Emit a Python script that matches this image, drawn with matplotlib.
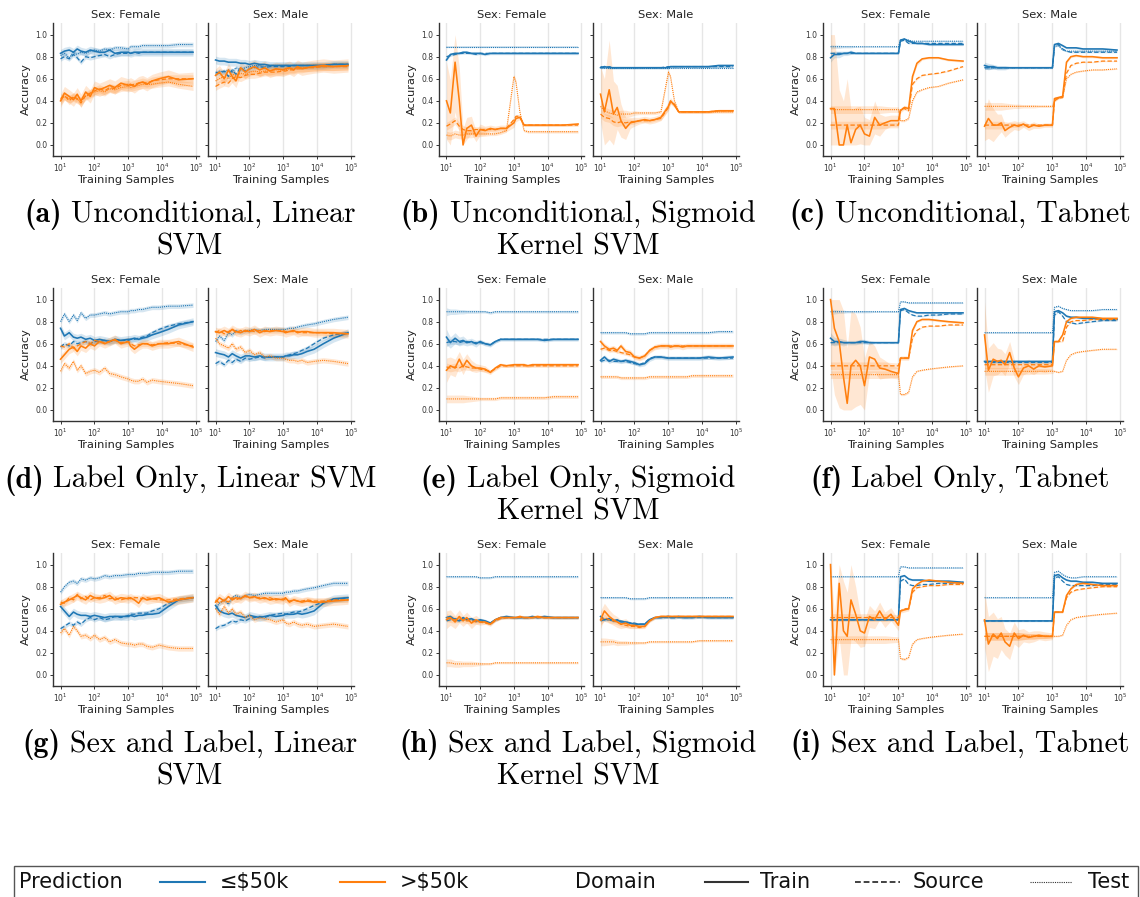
import numpy as np
import matplotlib
matplotlib.use('Agg')
import matplotlib.pyplot as plt
from matplotlib.lines import Line2D
from matplotlib.patches import Rectangle
from matplotlib.ticker import FixedLocator, NullLocator, LogFormatterSciNotation

# ---------------- data ----------------
samples = [10, 13, 18, 24, 31, 40, 55, 75, 100, 140, 200, 280, 400, 600, 1000,
           1150, 1500, 2000, 2600, 3500, 5000, 8000, 15000, 30000, 80000]

# (a) Unconditional, Linear SVM
a_F_lo_tr = [0.83,0.85,0.86,0.84,0.87,0.85,0.84,0.86,0.85,0.84,0.84,0.86,0.83,0.84,0.84,0.83,0.84,0.84,0.84,0.84,0.84,0.84,0.84,0.84,0.84]
a_F_lo_src = [0.78,0.80,0.78,0.82,0.79,0.75,0.80,0.79,0.80,0.81,0.82,0.80,0.82,0.83,0.83,0.83,0.84,0.83,0.84,0.84,0.84,0.84,0.84,0.84,0.84]
a_F_lo_tst = [0.81,0.83,0.79,0.84,0.82,0.84,0.83,0.85,0.86,0.85,0.87,0.86,0.88,0.88,0.87,0.89,0.89,0.89,0.90,0.90,0.90,0.90,0.90,0.91,0.91]
a_F_hi_tr = [0.40,0.47,0.44,0.41,0.46,0.40,0.48,0.44,0.52,0.50,0.52,0.54,0.52,0.56,0.54,0.55,0.53,0.56,0.57,0.55,0.58,0.60,0.62,0.59,0.60]
a_F_hi_src = [0.42,0.45,0.40,0.44,0.42,0.38,0.45,0.47,0.49,0.51,0.49,0.52,0.51,0.54,0.55,0.54,0.55,0.56,0.57,0.56,0.58,0.59,0.60,0.60,0.60]
a_F_hi_tst = [0.40,0.44,0.42,0.43,0.41,0.40,0.44,0.46,0.48,0.49,0.48,0.51,0.50,0.52,0.53,0.52,0.53,0.54,0.55,0.55,0.55,0.56,0.57,0.55,0.53]
a_M_lo_tr = [0.77,0.76,0.76,0.75,0.75,0.75,0.74,0.74,0.73,0.74,0.73,0.73,0.72,0.72,0.72,0.72,0.72,0.72,0.72,0.72,0.72,0.72,0.72,0.73,0.73]
a_M_lo_src = [0.66,0.65,0.67,0.62,0.68,0.64,0.70,0.67,0.69,0.70,0.71,0.70,0.71,0.71,0.71,0.72,0.71,0.72,0.72,0.72,0.72,0.72,0.72,0.73,0.73]
a_M_lo_tst = [0.64,0.67,0.66,0.68,0.66,0.70,0.68,0.70,0.71,0.72,0.72,0.71,0.72,0.72,0.72,0.72,0.72,0.72,0.72,0.72,0.72,0.72,0.72,0.73,0.73]
a_M_hi_tr = [0.63,0.66,0.60,0.68,0.62,0.58,0.70,0.66,0.69,0.71,0.68,0.70,0.67,0.69,0.68,0.69,0.70,0.68,0.71,0.69,0.70,0.71,0.72,0.71,0.72]
a_M_hi_src = [0.53,0.55,0.57,0.56,0.60,0.62,0.61,0.63,0.64,0.64,0.65,0.66,0.66,0.66,0.67,0.67,0.68,0.68,0.69,0.69,0.70,0.70,0.71,0.71,0.71]
a_M_hi_tst = [0.58,0.60,0.62,0.60,0.64,0.63,0.65,0.64,0.66,0.67,0.66,0.67,0.67,0.68,0.68,0.68,0.69,0.69,0.70,0.70,0.70,0.71,0.71,0.71,0.72]
a_band = [0.035, 0.06]

# (b) Unconditional, Sigmoid Kernel SVM
b_F_lo_tr = [0.77,0.82,0.83,0.83,0.84,0.84,0.83,0.83,0.83,0.82,0.83,0.83,0.83,0.83,0.83,0.83,0.83,0.83,0.83,0.83,0.83,0.83,0.83,0.83,0.83]
b_F_lo_src = [0.80,0.81,0.82,0.83,0.83,0.83,0.83,0.82,0.83,0.83,0.83,0.83,0.83,0.83,0.83,0.83,0.83,0.83,0.83,0.83,0.83,0.83,0.83,0.83,0.83]
b_F_lo_tst = [0.89,0.89,0.89,0.89,0.89,0.89,0.89,0.89,0.89,0.89,0.89,0.89,0.89,0.89,0.89,0.89,0.89,0.89,0.89,0.89,0.89,0.89,0.89,0.89,0.89]
b_F_hi_tr = [0.40,0.29,0.75,0.40,0.00,0.15,0.18,0.08,0.14,0.13,0.15,0.14,0.15,0.15,0.20,0.24,0.25,0.18,0.18,0.18,0.18,0.18,0.18,0.18,0.19]
b_F_hi_src = [0.17,0.19,0.22,0.17,0.14,0.13,0.13,0.14,0.14,0.14,0.14,0.14,0.15,0.15,0.23,0.26,0.26,0.18,0.18,0.18,0.18,0.18,0.18,0.18,0.18]
b_F_hi_tst = [0.09,0.08,0.10,0.09,0.09,0.10,0.10,0.10,0.10,0.10,0.10,0.10,0.11,0.13,0.62,0.57,0.30,0.13,0.12,0.12,0.12,0.12,0.12,0.12,0.12]
b_F_hi_band = [0.35,0.30,0.45,0.30,0.15,0.10,0.08,0.05,0.05,0.04,0.03,0.03,0.03,0.03,0.04,0.03,0.02,0.01,0.01,0.01,0.01,0.01,0.01,0.01,0.01]
b_M_lo_tr = [0.70,0.71,0.70,0.70,0.70,0.70,0.70,0.70,0.70,0.70,0.70,0.70,0.70,0.70,0.70,0.71,0.71,0.71,0.71,0.71,0.71,0.71,0.71,0.72,0.72]
b_M_lo_src = [0.71,0.70,0.71,0.70,0.70,0.70,0.70,0.70,0.70,0.70,0.70,0.70,0.70,0.70,0.71,0.71,0.71,0.71,0.71,0.71,0.71,0.71,0.71,0.71,0.71]
b_M_lo_tst = [0.70,0.70,0.70,0.70,0.70,0.70,0.70,0.70,0.70,0.70,0.70,0.70,0.70,0.70,0.70,0.70,0.70,0.70,0.70,0.70,0.70,0.70,0.70,0.70,0.70]
b_M_hi_tr = [0.46,0.30,0.50,0.28,0.34,0.22,0.15,0.20,0.21,0.22,0.23,0.22,0.23,0.25,0.35,0.40,0.36,0.30,0.30,0.30,0.30,0.30,0.30,0.31,0.31]
b_M_hi_src = [0.28,0.25,0.24,0.21,0.20,0.21,0.20,0.21,0.21,0.22,0.22,0.22,0.23,0.24,0.34,0.39,0.37,0.30,0.30,0.30,0.30,0.30,0.30,0.31,0.31]
b_M_hi_tst = [0.35,0.31,0.29,0.28,0.27,0.28,0.28,0.28,0.29,0.29,0.29,0.29,0.29,0.30,0.66,0.62,0.40,0.30,0.30,0.30,0.30,0.30,0.30,0.30,0.30]
b_M_hi_band = [0.25,0.30,0.45,0.30,0.20,0.15,0.10,0.05,0.04,0.03,0.03,0.03,0.03,0.03,0.04,0.03,0.02,0.01,0.01,0.01,0.01,0.01,0.01,0.01,0.01]
b_band = [0.012, 0.02]

# (c) Unconditional, Tabnet
c_F_lo_tr = [0.79,0.82,0.82,0.83,0.83,0.84,0.83,0.83,0.83,0.83,0.83,0.83,0.83,0.83,0.83,0.95,0.96,0.94,0.93,0.92,0.92,0.91,0.91,0.91,0.91]
c_F_lo_src = [0.83,0.83,0.83,0.83,0.83,0.83,0.83,0.83,0.83,0.83,0.83,0.83,0.83,0.83,0.83,0.94,0.95,0.92,0.92,0.92,0.92,0.92,0.92,0.92,0.92]
c_F_lo_tst = [0.89,0.89,0.89,0.89,0.89,0.89,0.89,0.89,0.89,0.89,0.89,0.89,0.89,0.89,0.89,0.95,0.96,0.95,0.94,0.94,0.94,0.94,0.94,0.94,0.94]
c_F_hi_tr = [0.33,0.33,0.00,0.00,0.18,0.02,0.14,0.18,0.10,0.08,0.25,0.18,0.20,0.22,0.22,0.31,0.34,0.33,0.62,0.74,0.78,0.79,0.79,0.77,0.76]
c_F_hi_src = [0.18,0.18,0.18,0.18,0.18,0.18,0.18,0.18,0.18,0.18,0.18,0.18,0.18,0.18,0.18,0.33,0.33,0.31,0.55,0.60,0.63,0.64,0.65,0.67,0.71]
c_F_hi_tst = [0.32,0.32,0.32,0.32,0.32,0.32,0.32,0.32,0.32,0.32,0.32,0.32,0.32,0.32,0.32,0.22,0.22,0.24,0.40,0.48,0.50,0.52,0.53,0.56,0.59]
c_F_lo_band = [0.04,0.03,0.03,0.02,0.02,0.02,0.01,0.01,0.01,0.01,0.01,0.01,0.01,0.01,0.01,0.01,0.01,0.01,0.01,0.01,0.01,0.01,0.01,0.01,0.01]
c_F_hi_band = [0.67,0.67,0.50,0.40,0.42,0.30,0.20,0.17,0.15,0.15,0.15,0.10,0.06,0.05,0.05,0.02,0.02,0.02,0.02,0.02,0.01,0.01,0.01,0.01,0.01]
c_M_lo_tr = [0.72,0.71,0.71,0.70,0.70,0.70,0.70,0.70,0.70,0.70,0.70,0.70,0.70,0.70,0.70,0.91,0.92,0.90,0.88,0.88,0.88,0.87,0.87,0.87,0.86]
c_M_lo_src = [0.70,0.70,0.70,0.70,0.70,0.70,0.70,0.70,0.70,0.70,0.70,0.70,0.70,0.70,0.70,0.90,0.91,0.87,0.85,0.84,0.84,0.84,0.84,0.84,0.84]
c_M_lo_tst = [0.70,0.70,0.70,0.70,0.70,0.70,0.70,0.70,0.70,0.70,0.70,0.70,0.70,0.70,0.70,0.89,0.90,0.86,0.85,0.85,0.85,0.85,0.85,0.85,0.85]
c_M_hi_tr = [0.17,0.24,0.18,0.18,0.20,0.13,0.16,0.18,0.17,0.19,0.16,0.18,0.17,0.18,0.18,0.42,0.43,0.44,0.75,0.80,0.81,0.80,0.80,0.79,0.79]
c_M_hi_src = [0.18,0.18,0.18,0.18,0.18,0.18,0.18,0.18,0.18,0.18,0.18,0.18,0.18,0.18,0.18,0.40,0.43,0.43,0.65,0.72,0.74,0.75,0.75,0.76,0.76]
c_M_hi_tst = [0.35,0.35,0.35,0.35,0.35,0.35,0.35,0.35,0.35,0.35,0.35,0.35,0.35,0.35,0.35,0.40,0.42,0.43,0.60,0.64,0.66,0.67,0.68,0.68,0.69]
c_M_lo_band = [0.03,0.03,0.02,0.02,0.02,0.02,0.01,0.01,0.01,0.01,0.01,0.01,0.01,0.01,0.01,0.01,0.01,0.01,0.01,0.01,0.01,0.01,0.01,0.01,0.01]
c_M_hi_band = [0.13,0.18,0.15,0.10,0.08,0.06,0.05,0.04,0.04,0.03,0.03,0.03,0.02,0.02,0.02,0.02,0.01,0.01,0.01,0.01,0.01,0.01,0.01,0.01,0.01]
c_band = [0.008, 0.008]

# (d) Label Only, Linear SVM
d_F_lo_tr = [0.74,0.67,0.70,0.66,0.65,0.66,0.64,0.65,0.63,0.64,0.63,0.62,0.64,0.63,0.64,0.64,0.65,0.64,0.65,0.66,0.68,0.70,0.73,0.77,0.80]
d_F_lo_src = [0.57,0.60,0.58,0.62,0.60,0.61,0.62,0.60,0.62,0.62,0.63,0.62,0.63,0.63,0.63,0.64,0.64,0.65,0.66,0.67,0.70,0.73,0.76,0.78,0.80]
d_F_lo_tst = [0.80,0.87,0.80,0.86,0.81,0.88,0.83,0.86,0.86,0.87,0.88,0.87,0.88,0.89,0.89,0.90,0.90,0.91,0.91,0.92,0.93,0.93,0.94,0.94,0.95]
d_F_hi_tr = [0.46,0.50,0.55,0.57,0.53,0.58,0.56,0.60,0.58,0.62,0.60,0.62,0.64,0.60,0.62,0.58,0.55,0.58,0.60,0.60,0.58,0.60,0.60,0.62,0.57]
d_F_hi_src = [0.58,0.57,0.60,0.56,0.58,0.60,0.62,0.60,0.63,0.62,0.61,0.62,0.63,0.61,0.62,0.60,0.58,0.59,0.60,0.60,0.59,0.60,0.61,0.60,0.58]
d_F_hi_tst = [0.35,0.42,0.38,0.44,0.36,0.40,0.33,0.35,0.36,0.34,0.38,0.33,0.32,0.30,0.28,0.27,0.26,0.26,0.28,0.25,0.27,0.26,0.25,0.24,0.22]
d_M_lo_tr = [0.52,0.51,0.50,0.48,0.51,0.49,0.47,0.49,0.49,0.48,0.49,0.48,0.48,0.48,0.48,0.49,0.49,0.50,0.50,0.51,0.53,0.55,0.60,0.65,0.70]
d_M_lo_src = [0.42,0.44,0.41,0.45,0.43,0.46,0.44,0.47,0.46,0.47,0.48,0.47,0.48,0.48,0.48,0.49,0.50,0.51,0.52,0.54,0.56,0.60,0.65,0.68,0.70]
d_M_lo_tst = [0.62,0.67,0.63,0.70,0.68,0.72,0.70,0.72,0.72,0.73,0.72,0.73,0.73,0.73,0.73,0.73,0.74,0.74,0.75,0.76,0.77,0.78,0.80,0.82,0.84]
d_M_hi_tr = [0.71,0.70,0.72,0.70,0.73,0.71,0.70,0.72,0.71,0.73,0.70,0.72,0.71,0.72,0.71,0.70,0.71,0.72,0.70,0.71,0.71,0.70,0.70,0.70,0.69]
d_M_hi_src = [0.70,0.72,0.69,0.71,0.73,0.70,0.72,0.71,0.72,0.71,0.72,0.71,0.72,0.72,0.72,0.71,0.71,0.71,0.71,0.70,0.70,0.70,0.70,0.69,0.69]
d_M_hi_tst = [0.65,0.60,0.58,0.56,0.60,0.55,0.57,0.52,0.54,0.50,0.52,0.48,0.49,0.47,0.47,0.46,0.45,0.45,0.44,0.45,0.43,0.44,0.45,0.44,0.42]
d_band = [0.035, 0.04]

# (e) Label Only, Sigmoid Kernel SVM
e_F_lo_tr = [0.66,0.61,0.65,0.62,0.63,0.61,0.62,0.60,0.62,0.60,0.59,0.62,0.64,0.64,0.64,0.64,0.64,0.64,0.64,0.64,0.64,0.63,0.64,0.64,0.64]
e_F_lo_src = [0.61,0.62,0.62,0.61,0.62,0.62,0.61,0.61,0.61,0.60,0.59,0.62,0.64,0.64,0.64,0.64,0.64,0.64,0.64,0.64,0.64,0.64,0.64,0.64,0.64]
e_F_lo_tst = [0.89,0.89,0.89,0.89,0.89,0.89,0.89,0.89,0.89,0.89,0.88,0.89,0.89,0.89,0.89,0.89,0.89,0.89,0.89,0.89,0.89,0.89,0.89,0.89,0.89]
e_F_hi_tr = [0.36,0.40,0.38,0.46,0.39,0.45,0.40,0.38,0.38,0.37,0.34,0.38,0.41,0.40,0.41,0.41,0.41,0.41,0.40,0.41,0.41,0.41,0.41,0.41,0.41]
e_F_hi_src = [0.39,0.38,0.39,0.38,0.40,0.39,0.38,0.38,0.37,0.36,0.35,0.37,0.40,0.40,0.40,0.40,0.40,0.40,0.40,0.40,0.40,0.40,0.40,0.40,0.40]
e_F_hi_tst = [0.10,0.10,0.10,0.10,0.10,0.10,0.10,0.10,0.10,0.10,0.10,0.10,0.11,0.11,0.11,0.11,0.11,0.11,0.11,0.11,0.11,0.11,0.12,0.12,0.12]
e_F_lo_band = [0.07,0.05,0.05,0.04,0.04,0.03,0.03,0.03,0.02,0.02,0.02,0.015,0.015,0.015,0.015,0.015,0.015,0.015,0.015,0.015,0.015,0.015,0.015,0.015,0.015]
e_F_hi_band = [0.11,0.08,0.08,0.07,0.07,0.06,0.05,0.04,0.03,0.03,0.02,0.015,0.015,0.015,0.015,0.015,0.015,0.015,0.015,0.015,0.015,0.015,0.015,0.015,0.015]
e_M_lo_tr = [0.45,0.48,0.44,0.46,0.45,0.44,0.45,0.44,0.43,0.41,0.42,0.46,0.48,0.48,0.47,0.47,0.47,0.47,0.47,0.47,0.47,0.47,0.48,0.47,0.48]
e_M_lo_src = [0.44,0.45,0.45,0.44,0.44,0.44,0.44,0.43,0.42,0.41,0.43,0.47,0.48,0.48,0.47,0.47,0.47,0.47,0.47,0.47,0.47,0.47,0.47,0.47,0.47]
e_M_lo_tst = [0.70,0.70,0.70,0.70,0.70,0.70,0.70,0.69,0.69,0.69,0.69,0.70,0.70,0.70,0.70,0.70,0.70,0.70,0.70,0.70,0.70,0.70,0.70,0.71,0.71]
e_M_hi_tr = [0.62,0.58,0.55,0.56,0.54,0.58,0.53,0.52,0.48,0.47,0.49,0.54,0.57,0.58,0.58,0.57,0.58,0.58,0.57,0.58,0.58,0.58,0.58,0.58,0.58]
e_M_hi_src = [0.55,0.56,0.54,0.54,0.53,0.52,0.51,0.50,0.48,0.47,0.49,0.54,0.57,0.58,0.58,0.58,0.58,0.58,0.58,0.58,0.58,0.58,0.58,0.58,0.58]
e_M_hi_tst = [0.30,0.30,0.30,0.30,0.30,0.29,0.29,0.29,0.29,0.29,0.29,0.30,0.30,0.30,0.30,0.30,0.30,0.30,0.30,0.30,0.31,0.31,0.31,0.31,0.31]
e_band = [0.02, 0.025]

# (f) Label Only, Tabnet
f_F_lo_tr = [0.65,0.62,0.62,0.61,0.61,0.61,0.61,0.62,0.62,0.61,0.61,0.61,0.61,0.61,0.61,0.91,0.92,0.90,0.89,0.88,0.88,0.88,0.88,0.88,0.88]
f_F_lo_src = [0.61,0.61,0.61,0.61,0.61,0.61,0.61,0.61,0.61,0.61,0.61,0.61,0.61,0.61,0.61,0.90,0.91,0.88,0.86,0.85,0.85,0.86,0.86,0.87,0.87]
f_F_lo_tst = [0.89,0.89,0.89,0.89,0.89,0.89,0.89,0.89,0.89,0.89,0.89,0.89,0.89,0.89,0.89,0.98,0.98,0.97,0.97,0.97,0.97,0.97,0.97,0.97,0.97]
f_F_hi_tr = [1.00,0.74,0.62,0.30,0.06,0.40,0.45,0.40,0.22,0.48,0.46,0.38,0.37,0.35,0.33,0.47,0.47,0.47,0.72,0.80,0.82,0.82,0.81,0.80,0.79]
f_F_hi_src = [0.40,0.40,0.40,0.40,0.40,0.40,0.40,0.40,0.40,0.40,0.40,0.40,0.40,0.40,0.40,0.47,0.47,0.47,0.65,0.72,0.75,0.76,0.76,0.77,0.77]
f_F_hi_tst = [0.32,0.32,0.32,0.32,0.32,0.32,0.32,0.32,0.32,0.32,0.32,0.32,0.32,0.32,0.32,0.14,0.14,0.16,0.30,0.35,0.36,0.37,0.38,0.39,0.40]
f_F_lo_band = [0.05,0.04,0.03,0.03,0.02,0.02,0.02,0.02,0.02,0.02,0.01,0.01,0.01,0.01,0.01,0.01,0.01,0.01,0.01,0.01,0.01,0.01,0.01,0.01,0.01]
f_F_hi_band = [0.60,0.60,0.60,0.60,0.50,0.50,0.42,0.35,0.25,0.15,0.12,0.10,0.08,0.06,0.05,0.02,0.02,0.02,0.02,0.01,0.01,0.01,0.01,0.01,0.01]
f_M_lo_tr = [0.44,0.44,0.44,0.44,0.44,0.44,0.44,0.44,0.44,0.44,0.44,0.44,0.44,0.44,0.44,0.89,0.90,0.88,0.85,0.84,0.84,0.83,0.83,0.82,0.82]
f_M_lo_src = [0.43,0.43,0.43,0.43,0.43,0.43,0.43,0.43,0.43,0.43,0.43,0.43,0.43,0.43,0.43,0.86,0.89,0.85,0.80,0.79,0.78,0.79,0.80,0.81,0.81]
f_M_lo_tst = [0.70,0.70,0.70,0.70,0.70,0.70,0.70,0.70,0.70,0.70,0.70,0.70,0.70,0.70,0.70,0.93,0.94,0.92,0.91,0.90,0.90,0.90,0.90,0.91,0.91]
f_M_hi_tr = [0.68,0.36,0.46,0.44,0.45,0.41,0.52,0.38,0.30,0.38,0.40,0.37,0.40,0.39,0.40,0.62,0.62,0.68,0.80,0.83,0.84,0.84,0.84,0.83,0.83]
f_M_hi_src = [0.41,0.41,0.41,0.41,0.41,0.41,0.41,0.41,0.41,0.41,0.41,0.41,0.41,0.41,0.41,0.62,0.62,0.62,0.75,0.80,0.81,0.81,0.82,0.82,0.82]
f_M_hi_tst = [0.35,0.35,0.35,0.35,0.35,0.35,0.35,0.35,0.35,0.35,0.35,0.35,0.35,0.35,0.35,0.35,0.34,0.35,0.45,0.50,0.52,0.53,0.54,0.55,0.55]
f_M_hi_band = [0.30,0.20,0.15,0.12,0.10,0.10,0.10,0.08,0.07,0.06,0.06,0.05,0.05,0.05,0.04,0.01,0.01,0.01,0.01,0.01,0.01,0.01,0.01,0.01,0.01]
f_band = [0.01, 0.008]

# (g) Sex and Label, Linear SVM
g_F_lo_tr = [0.62,0.58,0.53,0.57,0.55,0.54,0.54,0.53,0.54,0.53,0.52,0.53,0.53,0.53,0.53,0.54,0.53,0.54,0.54,0.55,0.55,0.56,0.62,0.68,0.70]
g_F_lo_src = [0.42,0.44,0.47,0.45,0.48,0.46,0.50,0.52,0.50,0.52,0.50,0.51,0.53,0.52,0.54,0.55,0.55,0.56,0.56,0.56,0.58,0.60,0.65,0.68,0.70]
g_F_lo_tst = [0.75,0.80,0.84,0.85,0.83,0.87,0.86,0.88,0.87,0.88,0.90,0.89,0.90,0.90,0.91,0.91,0.91,0.92,0.92,0.92,0.93,0.93,0.93,0.94,0.94]
g_F_hi_tr = [0.64,0.66,0.68,0.70,0.72,0.70,0.68,0.72,0.70,0.69,0.70,0.72,0.68,0.70,0.69,0.70,0.68,0.65,0.70,0.68,0.69,0.70,0.66,0.68,0.70]
g_F_hi_src = [0.66,0.65,0.70,0.68,0.73,0.69,0.71,0.68,0.70,0.70,0.72,0.69,0.70,0.68,0.70,0.69,0.70,0.70,0.69,0.70,0.69,0.68,0.68,0.69,0.70]
g_F_hi_tst = [0.38,0.42,0.36,0.44,0.40,0.35,0.36,0.33,0.36,0.32,0.34,0.30,0.32,0.29,0.28,0.28,0.27,0.28,0.28,0.26,0.25,0.27,0.25,0.24,0.24]
g_M_lo_tr = [0.63,0.58,0.56,0.55,0.56,0.54,0.53,0.52,0.54,0.53,0.52,0.53,0.54,0.53,0.54,0.55,0.55,0.55,0.56,0.55,0.56,0.58,0.65,0.69,0.70]
g_M_lo_src = [0.42,0.44,0.45,0.47,0.49,0.48,0.50,0.49,0.51,0.52,0.53,0.52,0.54,0.55,0.56,0.55,0.56,0.57,0.57,0.58,0.60,0.63,0.66,0.68,0.70]
g_M_lo_tst = [0.60,0.65,0.68,0.64,0.70,0.72,0.70,0.72,0.73,0.72,0.73,0.74,0.74,0.74,0.74,0.75,0.75,0.76,0.76,0.77,0.78,0.79,0.81,0.83,0.83]
g_M_hi_tr = [0.66,0.70,0.67,0.71,0.68,0.70,0.69,0.72,0.70,0.71,0.69,0.70,0.68,0.69,0.68,0.70,0.66,0.68,0.67,0.66,0.67,0.66,0.66,0.67,0.68]
g_M_hi_src = [0.68,0.65,0.68,0.66,0.70,0.68,0.70,0.71,0.70,0.70,0.70,0.69,0.70,0.68,0.69,0.68,0.67,0.68,0.67,0.67,0.68,0.67,0.67,0.68,0.68]
g_M_hi_tst = [0.60,0.55,0.62,0.56,0.60,0.55,0.57,0.52,0.54,0.50,0.52,0.51,0.50,0.48,0.50,0.47,0.46,0.48,0.46,0.45,0.46,0.44,0.45,0.46,0.44]
g_band = [0.035, 0.04]

# (h) Sex and Label, Sigmoid Kernel SVM
h_F_lo_tr = [0.52,0.53,0.50,0.49,0.52,0.50,0.51,0.49,0.50,0.49,0.47,0.50,0.52,0.53,0.52,0.52,0.52,0.52,0.52,0.53,0.52,0.53,0.52,0.52,0.52]
h_F_lo_src = [0.49,0.50,0.51,0.50,0.50,0.51,0.50,0.49,0.49,0.48,0.47,0.50,0.52,0.52,0.52,0.52,0.52,0.52,0.52,0.52,0.52,0.52,0.52,0.52,0.52]
h_F_lo_tst = [0.89,0.89,0.89,0.89,0.89,0.89,0.89,0.89,0.88,0.88,0.88,0.89,0.89,0.89,0.89,0.89,0.89,0.89,0.89,0.89,0.89,0.89,0.89,0.89,0.89]
h_F_hi_tr = [0.50,0.52,0.48,0.53,0.49,0.52,0.47,0.50,0.48,0.48,0.46,0.50,0.52,0.52,0.52,0.52,0.53,0.52,0.52,0.52,0.53,0.52,0.52,0.52,0.52]
h_F_hi_src = [0.52,0.51,0.50,0.51,0.50,0.49,0.49,0.48,0.48,0.47,0.46,0.49,0.51,0.52,0.52,0.52,0.52,0.52,0.52,0.52,0.52,0.52,0.52,0.52,0.52]
h_F_hi_tst = [0.11,0.11,0.10,0.10,0.10,0.10,0.10,0.10,0.10,0.10,0.10,0.11,0.11,0.11,0.11,0.11,0.11,0.11,0.11,0.11,0.11,0.11,0.11,0.11,0.11]
h_F_hi_band = [0.08,0.07,0.06,0.06,0.05,0.05,0.05,0.04,0.03,0.02,0.02,0.015,0.015,0.015,0.015,0.015,0.015,0.015,0.015,0.015,0.015,0.015,0.015,0.015,0.015]
h_M_lo_tr = [0.53,0.50,0.51,0.49,0.50,0.48,0.48,0.47,0.46,0.46,0.46,0.50,0.52,0.52,0.53,0.52,0.52,0.53,0.52,0.52,0.52,0.53,0.52,0.52,0.52]
h_M_lo_src = [0.49,0.50,0.50,0.49,0.49,0.49,0.48,0.47,0.47,0.46,0.46,0.50,0.52,0.52,0.52,0.52,0.52,0.52,0.52,0.52,0.52,0.52,0.52,0.52,0.52]
h_M_lo_tst = [0.70,0.70,0.70,0.70,0.70,0.70,0.70,0.69,0.69,0.69,0.69,0.70,0.70,0.70,0.70,0.70,0.70,0.70,0.70,0.70,0.70,0.70,0.70,0.70,0.70]
h_M_hi_tr = [0.50,0.58,0.53,0.50,0.48,0.46,0.47,0.45,0.45,0.44,0.44,0.49,0.52,0.53,0.53,0.53,0.53,0.53,0.53,0.53,0.53,0.53,0.53,0.53,0.53]
h_M_hi_src = [0.49,0.52,0.50,0.49,0.48,0.46,0.45,0.44,0.44,0.43,0.44,0.49,0.52,0.53,0.53,0.53,0.53,0.53,0.53,0.53,0.53,0.53,0.53,0.53,0.53]
h_M_hi_tst = [0.30,0.30,0.30,0.30,0.29,0.29,0.29,0.29,0.29,0.29,0.29,0.30,0.30,0.30,0.30,0.30,0.30,0.30,0.30,0.30,0.30,0.31,0.31,0.31,0.31]
h_M_hi_band = [0.08,0.07,0.06,0.05,0.05,0.04,0.04,0.03,0.03,0.02,0.02,0.015,0.015,0.015,0.015,0.015,0.015,0.015,0.015,0.015,0.015,0.015,0.015,0.015,0.015]
h_band = [0.015, 0.015]

# (i) Sex and Label, Tabnet
i_F_lo_tr = [0.50,0.50,0.50,0.50,0.50,0.50,0.50,0.50,0.50,0.50,0.50,0.50,0.50,0.50,0.50,0.89,0.90,0.87,0.86,0.86,0.86,0.85,0.85,0.85,0.84]
i_F_lo_src = [0.50,0.50,0.50,0.50,0.50,0.50,0.50,0.50,0.50,0.50,0.50,0.50,0.50,0.50,0.50,0.85,0.87,0.82,0.81,0.81,0.82,0.82,0.83,0.83,0.84]
i_F_lo_tst = [0.89,0.89,0.89,0.89,0.89,0.89,0.89,0.89,0.89,0.89,0.89,0.89,0.89,0.89,0.89,0.98,0.98,0.97,0.97,0.97,0.97,0.97,0.97,0.97,0.97]
i_F_hi_tr = [1.00,0.00,0.83,0.40,0.35,0.68,0.55,0.40,0.38,0.53,0.50,0.58,0.50,0.55,0.45,0.58,0.59,0.60,0.78,0.82,0.85,0.86,0.85,0.84,0.83]
i_F_hi_src = [0.52,0.52,0.52,0.52,0.52,0.52,0.52,0.52,0.52,0.52,0.52,0.52,0.52,0.52,0.52,0.58,0.60,0.60,0.75,0.79,0.80,0.81,0.81,0.82,0.82]
i_F_hi_tst = [0.32,0.32,0.32,0.32,0.32,0.32,0.32,0.32,0.32,0.32,0.32,0.32,0.32,0.32,0.32,0.15,0.14,0.16,0.28,0.32,0.33,0.34,0.35,0.36,0.37]
i_F_hi_band = [0.55,0.55,0.50,0.45,0.40,0.35,0.25,0.15,0.12,0.10,0.08,0.08,0.07,0.06,0.05,0.02,0.02,0.02,0.02,0.01,0.01,0.01,0.01,0.01,0.01]
i_M_lo_tr = [0.49,0.49,0.49,0.49,0.49,0.49,0.49,0.49,0.49,0.49,0.49,0.49,0.49,0.49,0.49,0.90,0.91,0.88,0.86,0.85,0.85,0.84,0.84,0.83,0.83]
i_M_lo_src = [0.49,0.49,0.49,0.49,0.49,0.49,0.49,0.49,0.49,0.49,0.49,0.49,0.49,0.49,0.49,0.88,0.89,0.85,0.82,0.81,0.81,0.81,0.81,0.82,0.82]
i_M_lo_tst = [0.70,0.70,0.70,0.70,0.70,0.70,0.70,0.70,0.70,0.70,0.70,0.70,0.70,0.70,0.70,0.93,0.94,0.91,0.89,0.88,0.88,0.89,0.89,0.89,0.89]
i_M_hi_tr = [0.50,0.28,0.37,0.33,0.38,0.30,0.26,0.38,0.33,0.36,0.34,0.35,0.36,0.35,0.35,0.57,0.57,0.57,0.72,0.78,0.82,0.83,0.82,0.81,0.81]
i_M_hi_src = [0.35,0.35,0.35,0.35,0.35,0.35,0.35,0.35,0.35,0.35,0.35,0.35,0.35,0.35,0.35,0.57,0.57,0.57,0.70,0.75,0.77,0.78,0.79,0.80,0.80]
i_M_hi_tst = [0.35,0.35,0.35,0.35,0.35,0.35,0.35,0.35,0.35,0.35,0.35,0.35,0.35,0.35,0.35,0.35,0.35,0.36,0.45,0.50,0.52,0.53,0.54,0.55,0.56]
i_M_hi_band = [0.25,0.25,0.20,0.18,0.15,0.12,0.12,0.10,0.08,0.06,0.05,0.05,0.04,0.04,0.03,0.01,0.01,0.01,0.01,0.01,0.01,0.01,0.01,0.01,0.01]
i_band = [0.008, 0.008]

panels = ['a', 'b', 'c', 'd', 'e', 'f', 'g', 'h', 'i']
sexes = ['F', 'M']
sex_titles = ['Sex: Female', 'Sex: Male']
classes = ['lo', 'hi']
class_labels = ['≤\\$50k', '>\\$50k']
domains = ['tr', 'src', 'tst']
domain_labels = ['Train', 'Source', 'Test']
caption_labels = ['(a)', '(b)', '(c)', '(d)', '(e)', '(f)', '(g)', '(h)', '(i)']
caption_line1 = ['Unconditional, Linear', 'Unconditional, Sigmoid', 'Unconditional, Tabnet',
                 'Label Only, Linear SVM', 'Label Only, Sigmoid', 'Label Only, Tabnet',
                 'Sex and Label, Linear', 'Sex and Label, Sigmoid', 'Sex and Label, Tabnet']
caption_line2 = ['SVM', 'Kernel SVM', '', '', 'Kernel SVM', '', 'SVM', 'Kernel SVM', '']

# ---------------- style ----------------
W, H = 1140, 897
BLUE, ORANGE = '#1f77b4', '#ff7f0e'
COLORS = {'lo': BLUE, 'hi': ORANGE}
STYLES = {'tr': dict(ls='-', lw=1.15),
          'src': dict(ls=(0, (3.5, 1.8)), lw=0.9),
          'tst': dict(ls=(0, (1, 0.9)), lw=0.8)}

fig = plt.figure(figsize=(W / 100, H / 100), dpi=100)

col_px = [(53, 199, 208, 354), (439, 584, 593, 739), (823, 969, 977, 1123)]
row_px = [(23, 156), (288, 421), (553, 686)]
cap_cx = [190, 578, 960]
cap_y1 = [215, 480, 745]


def add_ax(x0, y0, x1, y1, sharey=None):
    return fig.add_axes([x0 / W, 1 - y1 / H, (x1 - x0) / W, (y1 - y0) / H], sharey=sharey)


xs = np.array(samples, dtype=float)
for pi, p in enumerate(panels):
    r, c = divmod(pi, 3)
    cx = col_px[c]
    ry = row_px[r]
    defaults = globals()[p + '_band']
    ax_f = add_ax(cx[0], ry[0], cx[1], ry[1])
    ax_m = add_ax(cx[2], ry[0], cx[3], ry[1], sharey=ax_f)
    for si, (s, ax) in enumerate(zip(sexes, [ax_f, ax_m])):
        for ci, cl in enumerate(classes):
            color = COLORS[cl]
            band_tr = globals().get(f'{p}_{s}_{cl}_band', defaults[ci])
            for d in domains:
                y = np.array(globals()[f'{p}_{s}_{cl}_{d}'])
                if d == 'tr':
                    b = np.broadcast_to(np.array(band_tr, dtype=float), y.shape)
                else:
                    b = np.minimum(np.broadcast_to(np.array(band_tr, dtype=float), y.shape) * 0.5, 0.035)
                    b = np.maximum(b, defaults[ci] * 0.6)
                lo = np.clip(y - b, 0, 1)
                hi = np.clip(y + b, 0, 1)
                ax.fill_between(xs, lo, hi, color=color, alpha=0.18, lw=0, zorder=1)
            for d in domains:
                y = globals()[f'{p}_{s}_{cl}_{d}']
                st = STYLES[d]
                ax.plot(xs, y, color=color, linestyle=st['ls'], lw=st['lw'], zorder=3)
        ax.set_xscale('log')
        ax.set_xlim(6, 1.2e5)
        ax.set_ylim(-0.1, 1.105)
        ax.xaxis.set_major_locator(FixedLocator([1e1, 1e2, 1e3, 1e4, 1e5]))
        ax.xaxis.set_major_formatter(LogFormatterSciNotation())
        ax.xaxis.set_minor_locator(NullLocator())
        ax.set_yticks([0.0, 0.2, 0.4, 0.6, 0.8, 1.0])
        ax.grid(axis='x', color='#e6e6e6', lw=1.0, zorder=0)
        ax.set_axisbelow(True)
        for sp in ['top', 'right']:
            ax.spines[sp].set_visible(False)
        for sp in ['left', 'bottom']:
            ax.spines[sp].set_color('#333333')
            ax.spines[sp].set_linewidth(1.0)
        ax.tick_params(axis='both', labelsize=5.5, length=2.5, width=0.7, pad=1.5,
                       colors='#333333', labelcolor='#333333')
        ax.set_title(sex_titles[si], fontsize=8.2, pad=3.5, color='#222222')
        ax.set_xlabel('Training Samples', fontsize=8.2, labelpad=1, color='#222222')
        ax.set_facecolor('white')
    ax_f.set_ylabel('Accuracy', fontsize=8.2, labelpad=3, color='#222222')
    ax_f.yaxis.set_major_formatter(matplotlib.ticker.FormatStrFormatter('%.1f'))
    plt.setp(ax_m.get_yticklabels(), visible=False)

# ---------------- captions ----------------
renderer = fig.canvas.get_renderer()
CAP_FS = 21.5


def caption(cx, cy, label, text):
    t1 = fig.text(0, 1 - cy / H, label, family='cmb10', fontsize=CAP_FS, va='center', ha='left')
    t2 = fig.text(0, 1 - cy / H, text, family='cmr10', fontsize=CAP_FS, va='center', ha='left')
    w1 = t1.get_window_extent(renderer).width
    w2 = t2.get_window_extent(renderer).width
    gap = CAP_FS * 0.42
    start = cx - (w1 + gap + w2) / 2
    t1.set_x(start / W)
    t2.set_x((start + w1 + gap) / W)


for pi in range(9):
    r, c = divmod(pi, 3)
    caption(cap_cx[c], cap_y1[r], caption_labels[pi], caption_line1[pi])
    if caption_line2[pi]:
        fig.text(cap_cx[c] / W, 1 - (cap_y1[r] + 32) / H, caption_line2[pi], family='cmr10',
                 fontsize=CAP_FS, va='center', ha='center')

# ---------------- legend (bottom strip) ----------------
fig.add_artist(Rectangle((14 / W, 1 - 905 / H), (1138 - 14) / W, (905 - 866) / H,
                         transform=fig.transFigure, fill=False, edgecolor='#555555', lw=1.0))
LEG_Y = 1 - 882 / H
LEG_FS = 15


def leg_text(x, s):
    fig.text(x / W, LEG_Y, s, fontsize=LEG_FS, va='center', ha='left', color='#111111')


def leg_line(x0, x1, color, ls, lw):
    fig.add_artist(Line2D([x0 / W, x1 / W], [LEG_Y, LEG_Y], transform=fig.transFigure,
                          color=color, ls=ls, lw=lw))


leg_text(19, 'Prediction')
leg_line(160, 205, BLUE, '-', 1.5)
leg_text(220, class_labels[0])
leg_line(340, 385, ORANGE, '-', 1.5)
leg_text(400, class_labels[1])
leg_text(575, 'Domain')
leg_line(705, 748, '#333333', '-', 1.5)
leg_text(760, domain_labels[0])
leg_line(855, 900, '#333333', (0, (3.2, 1.6)), 1.3)
leg_text(913, domain_labels[1])
leg_line(1030, 1072, '#333333', (0, (1, 1)), 0.8)
leg_text(1088, domain_labels[2])

fig.savefig('out.png', dpi=100, facecolor='white')
